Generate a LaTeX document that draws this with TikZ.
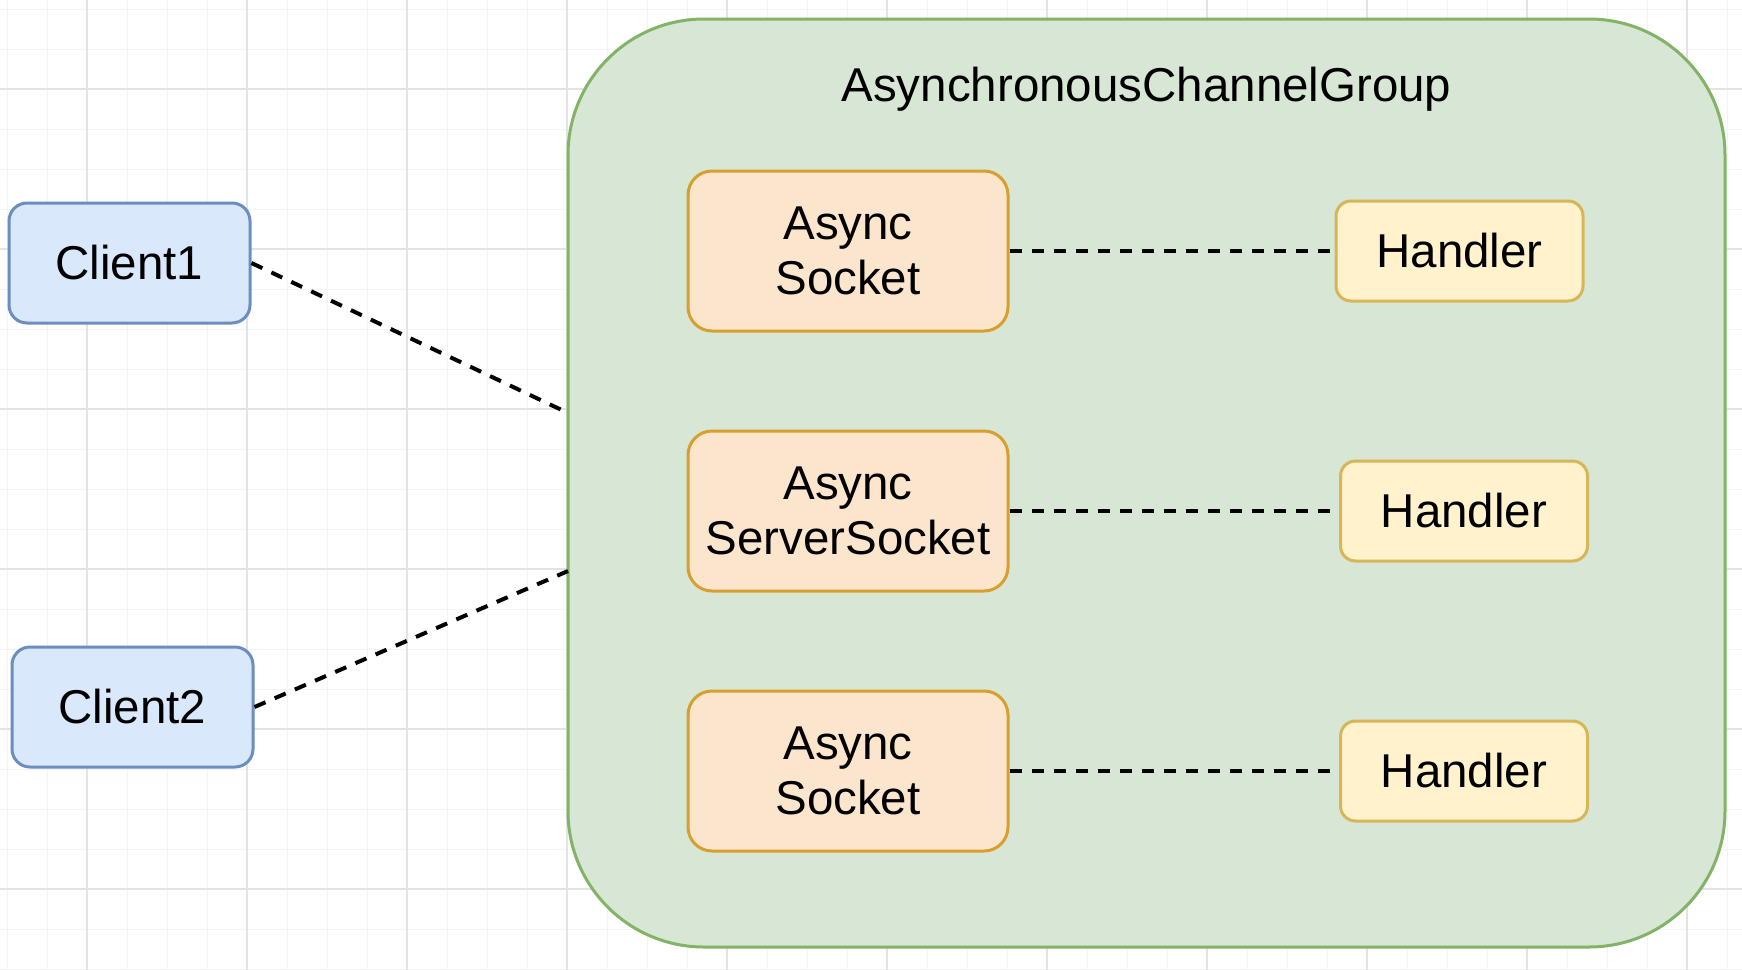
\documentclass[tikz,border=0pt]{standalone}
\usepackage{fontspec}
\setmainfont{Liberation Sans}
\definecolor{bluefill}{HTML}{DAE8FC}
\definecolor{bluedraw}{HTML}{6C8EBF}
\definecolor{orangefill}{HTML}{FCE5CD}
\definecolor{orangedraw}{HTML}{D69F2E}
\definecolor{yellowfill}{HTML}{FFF2CC}
\definecolor{yellowdraw}{HTML}{D6B656}
\definecolor{greenfill}{HTML}{D8E7D5}
\definecolor{greendraw}{HTML}{82B366}
\definecolor{gridminor}{HTML}{F3F3F3}
\definecolor{gridmajor}{HTML}{E3E3E3}
\begin{document}
\begin{tikzpicture}[x=0.5pt,y=-0.5pt,
  every node/.style={font=\fontsize{23.75}{27.5}\selectfont, inner sep=0pt, align=center},
  clientbox/.style={draw=bluedraw, fill=bluefill, line width=1.5pt, rounded corners=9pt, minimum width=120.5pt, minimum height=60pt},
  sockbox/.style={draw=orangedraw, fill=orangefill, line width=1.5pt, rounded corners=12pt, minimum width=160pt, minimum height=80pt},
  handlerbox/.style={draw=yellowdraw, fill=yellowfill, line width=1.5pt, rounded corners=7.5pt, minimum width=123.5pt, minimum height=50pt},
  groupbox/.style={draw=greendraw, fill=greenfill, line width=1.5pt, rounded corners=68pt, minimum width=578.5pt, minimum height=464pt},
  link/.style={line width=2pt, dash pattern=on 6pt off 5pt, black}
]
\useasboundingbox (0,0) rectangle (1742,970);
\fill[white] (0,0) rectangle (1742,970);
% background grid
\foreach \k in {0,...,43} \draw[gridminor, line width=0.5pt] ({7+40*\k},0) -- ({7+40*\k},970);
\foreach \k in {0,...,24} \draw[gridminor, line width=0.5pt] (0,{9+40*\k}) -- (1742,{9+40*\k});
\foreach \k in {0,...,10} \draw[gridmajor, line width=0.7pt] ({87+160*\k},0) -- ({87+160*\k},970);
\foreach \k in {0,...,5} \draw[gridmajor, line width=0.7pt] (0,{89+160*\k}) -- (1742,{89+160*\k});

% group container
\node[groupbox] (grp) at (1146.5,483) {};
\node[anchor=base] (title) at (1146.5,101) {AsynchronousChannelGroup};

% clients
\node[clientbox] (c1) at (129.5,263) {Client1};
\node[clientbox] (c2) at (132.5,707) {Client2};

% sockets
\node[sockbox] (s1) at (848,251) {Async\\Socket};
\node[sockbox] (s2) at (848,511) {Async\\ServerSocket};
\node[sockbox] (s3) at (848,771) {Async\\Socket};

% handlers
\node[handlerbox] (h1) at (1459.5,251) {Handler};
\node[handlerbox] (h2) at (1464,511) {Handler};
\node[handlerbox] (h3) at (1464,771) {Handler};

% connection points on the group border
\coordinate (g1) at (568,413);
\coordinate (g2) at (568,571);

\draw[link] (c1.east) -- (g1);
\draw[link] (c2.east) -- (g2);
\draw[link] (s1.east) -- (h1.west);
\draw[link] (s2.east) -- (h2.west);
\draw[link] (s3.east) -- (h3.west);
\end{tikzpicture}
\end{document}
